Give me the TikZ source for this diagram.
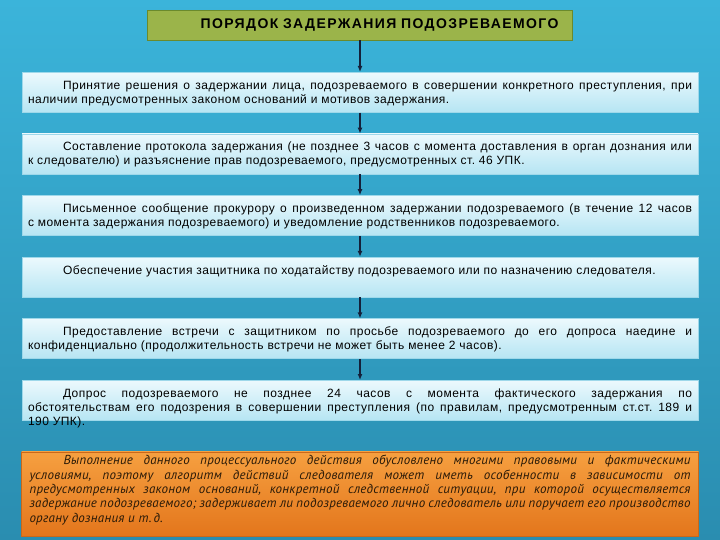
\documentclass[tikz,border=0pt]{standalone}
\usepackage{fontspec}
\setmainfont{Liberation Sans}
\newfontfamily\headfont[LetterSpace=10]{Liberation Sans}
\newfontfamily\boxfont[LetterSpace=4]{Liberation Sans}
\newfontfamily\notefont[LetterSpace=2]{PT Sans}
\usetikzlibrary{arrows.meta,positioning}
\hyphenpenalty=10000
\exhyphenpenalty=10000
\frenchspacing

\definecolor{bgtop}{HTML}{3BB4DA}
\definecolor{bgbot}{HTML}{2A8DB0}
\definecolor{headfill}{HTML}{9BB44A}
\definecolor{headedge}{HTML}{6B8A2C}
\definecolor{boxtop}{HTML}{ECF9FD}
\definecolor{boxbot}{HTML}{B6E5F3}
\definecolor{boxedge}{HTML}{9ED8EA}
\definecolor{notetop}{HTML}{F6A040}
\definecolor{notebot}{HTML}{E3761C}
\definecolor{noteedge}{HTML}{C9681A}
\definecolor{notetext}{HTML}{2A1A08}
\definecolor{arrowc}{HTML}{14203A}

\tikzset{
  headbox/.style={rectangle, draw=headedge, line width=0.8pt, fill=headfill,
    minimum height=30pt, text width=397pt, inner xsep=14pt, align=right,
    font=\headfont\bfseries\fontsize{14}{16}\selectfont},
  stepbox/.style={rectangle, draw=boxedge, line width=0.6pt,
    top color=boxtop, bottom color=boxbot, anchor=north,
    text width=664pt, inner xsep=6pt, inner ysep=4pt,
    text height=13pt, text depth=19pt, align=justify,
    font=\boxfont\fontsize{12}{14}\selectfont\frenchspacing},
  notebox/.style={rectangle, draw=noteedge, line width=0.6pt,
    top color=notetop, bottom color=notebot, anchor=north,
    text width=661pt, inner xsep=8pt, inner ysep=4pt,
    text height=9pt, text depth=67pt, align=justify, text=notetext,
    font=\notefont\itshape\fontsize{13}{14.3}\selectfont\frenchspacing}
}

\begin{document}
\begin{tikzpicture}[x=1pt, y=1pt, >={Latex[length=6pt,width=5pt]}]
  \useasboundingbox (0,0) rectangle (720,-540);
  \shade[top color=bgtop, bottom color=bgbot] (0,0) rectangle (720,-540);

  \node[headbox] (head) at (360,-25) {ПОРЯДОК ЗАДЕРЖАНИЯ ПОДОЗРЕВАЕМОГО};

  \node[stepbox] (s1) at (360,-72) {\hspace*{35pt}Принятие решения о задержании лица, подозреваемого в совершении конкретного преступления, при\linebreak наличии предусмотренных законом оснований и мотивов задержания.};
  \node[stepbox, below=21pt of s1] (s2) {\hspace*{35pt}Составление протокола задержания (не позднее 3 часов с момента доставления в орган дознания или\linebreak к следователю) и разъяснение прав подозреваемого, предусмотренных ст. 46 УПК.};
  \node[stepbox, below=21pt of s2] (s3) {\hspace*{35pt}Письменное сообщение прокурору о произведенном задержании подозреваемого (в течение 12 часов\linebreak с момента задержания подозреваемого) и уведомление родственников подозреваемого.};
  \node[stepbox, below=21pt of s3] (s4) {\hspace*{35pt}Обеспечение участия защитника по ходатайству подозреваемого или по назначению следователя.};
  \node[stepbox, below=21pt of s4] (s5) {\hspace*{35pt}Предоставление встречи с защитником по просьбе подозреваемого до его допроса наедине и\linebreak конфиденциально (продолжительность встречи не может быть менее 2 часов).};
  \node[stepbox, below=21pt of s5] (s6) {\hspace*{35pt}Допрос подозреваемого не позднее 24 часов с момента фактического задержания по\linebreak обстоятельствам его подозрения в совершении преступления (по правилам, предусмотренным ст.ст. 189 и\linebreak 190 УПК).};

  \node[notebox, below=31pt of s6] (note) {\hspace*{34pt}Выполнение данного процессуального действия обусловлено многими правовыми и фактическими\linebreak условиями, поэтому алгоритм действий следователя может иметь особенности в зависимости от\linebreak предусмотренных законом оснований, конкретной следственной ситуации, при которой осуществляется\linebreak задержание подозреваемого; задерживает ли подозреваемого лично следователь или поручает его производство\linebreak органу дознания и т.\,д.};

  \draw[->, line width=1.4pt, arrowc] (head) -- (s1);
  \draw[->, line width=1.4pt, arrowc] (s1) -- (s2);
  \draw[->, line width=1.4pt, arrowc] (s2) -- (s3);
  \draw[->, line width=1.4pt, arrowc] (s3) -- (s4);
  \draw[->, line width=1.4pt, arrowc] (s4) -- (s5);
  \draw[->, line width=1.4pt, arrowc] (s5) -- (s6);
\end{tikzpicture}
\end{document}
